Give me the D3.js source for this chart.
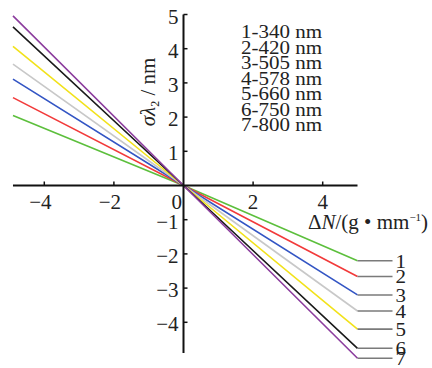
<!doctype html>
<html>
<head>
<meta charset="utf-8">
<script src="https://d3js.org/d3.v7.min.js"></script>
<style>
  body { margin: 0; background: #fff; }
</style>
</head>
<body>
<script>
// series: number, wavelength, colour
var ids = ["1", "2", "3", "4", "5", "6", "7"];
var waves = [340, 420, 505, 578, 660, 750, 800];
var colors = ["#5cbf3c", "#f23a3a", "#3355c4", "#c8c8c8", "#f2e21a", "#1a1a1a", "#8c3d9e"];
// sigma lambda at the left end (dN = -4.9), zero, right end (dN = 5)
var leftVals = [2.05, 2.57, 3.11, 3.55, 4.07, 4.64, 4.96];
var rightVals = [-2.2, -2.66, -3.2, -3.67, -4.2, -4.76, -5.05];
var xStart = -4.9, xEnd = 5;
var xTicks = [-4, -2, 2, 4];
var yTicks = [-4, -3, -2, -1, 1, 2, 3, 4, 5];

var w = 432, h = 368;
var svg = d3.select("body").append("svg").attr("width", w).attr("height", h)
  .attr("font-family", "Liberation Serif")
  .attr("fill", "#222");

var x = d3.scaleLinear().domain([-5, 5]).range([9.5, 357.5]);
var y = d3.scaleLinear().domain([-5, 5]).range([356.5, 14.5]);

// data lines
var line = d3.line().x(d => x(d[0])).y(d => y(d[1]));
ids.forEach(function(id, i) {
  var pts = [[xStart, leftVals[i]], [0, 0], [xEnd, rightVals[i]]];
  svg.append("path").attr("d", line(pts))
    .attr("fill", "none").attr("stroke", colors[i]).attr("stroke-width", 1.6);
  // leader and number
  svg.append("line")
    .attr("x1", x(xEnd)).attr("x2", x(xEnd) + 35)
    .attr("y1", y(rightVals[i])).attr("y2", y(rightVals[i]))
    .attr("stroke", "#7a7a7a").attr("stroke-width", 1.6);
  svg.append("text")
    .attr("transform", "translate(" + (x(xEnd) + 38) + "," + (y(rightVals[i]) + 7) + ") scale(1,0.9)")
    .attr("font-size", 21).text(id);
});

// x axis
var xAxis = svg.append("g").attr("transform", "translate(0," + y(0) + ")");
xAxis.append("line").attr("x1", x(-4.9)).attr("x2", x(5)).attr("stroke", "#111").attr("stroke-width", 2);
xAxis.selectAll(".xt").data(xTicks).enter().append("line")
  .attr("x1", d => x(d)).attr("x2", d => x(d)).attr("y1", 0).attr("y2", -4)
  .attr("stroke", "#111").attr("stroke-width", 1.5);
xAxis.selectAll(".xl").data(xTicks).enter().append("text")
  .attr("x", d => x(d) - (d < 0 ? 4 : 0)).attr("y", 23)
  .attr("text-anchor", "middle").attr("font-size", 21)
  .text(d => d < 0 ? "\u2212" + Math.abs(d) : d);
svg.append("text").attr("x", x(0) - 12).attr("y", y(0) + 23).attr("font-size", 21).text("0");

// y axis
var yAxis = svg.append("g").attr("transform", "translate(" + x(0) + ",0)");
yAxis.append("line").attr("y1", y(5)).attr("y2", y(-4.9)).attr("stroke", "#111").attr("stroke-width", 2);
yAxis.selectAll(".yt").data(yTicks).enter().append("line")
  .attr("y1", d => y(d)).attr("y2", d => y(d)).attr("x1", 0).attr("x2", 4)
  .attr("stroke", "#111").attr("stroke-width", 1.5);
yAxis.selectAll(".yl").data(yTicks).enter().append("text")
  .attr("x", -5).attr("y", d => y(d) + 9)
  .attr("text-anchor", "end").attr("font-size", 21)
  .text(d => d < 0 ? "\u2212" + Math.abs(d) : d);

// y title
var yt = svg.append("text").attr("transform", "translate(155,92) rotate(-90)")
  .attr("text-anchor", "middle").attr("font-size", 21);
yt.append("tspan").attr("font-style", "italic").text("\u03c3\u03bb");
yt.append("tspan").attr("font-size", 12).attr("dy", 4).text("2");
yt.append("tspan").attr("dy", -4).text(" / nm");

// x title
var xt = svg.append("text").attr("x", 308).attr("y", 229).attr("font-size", 21);
xt.append("tspan").text("\u0394");
xt.append("tspan").attr("font-style", "italic").text("N");
xt.append("tspan").text("/(g \u2022 mm");
xt.append("tspan").attr("font-size", 11).attr("dy", -8).text("\u22121");
xt.append("tspan").attr("dy", 8).text(")");

// wavelength legend
svg.selectAll(".lg").data(ids).enter().append("text")
  .attr("transform", (d, i) => "translate(241," + (38 + i * 15.5) + ") scale(1,0.88)")
  .attr("font-size", 21)
  .text((d, i) => d + "-" + waves[i] + " nm");
</script>
</body>
</html>
